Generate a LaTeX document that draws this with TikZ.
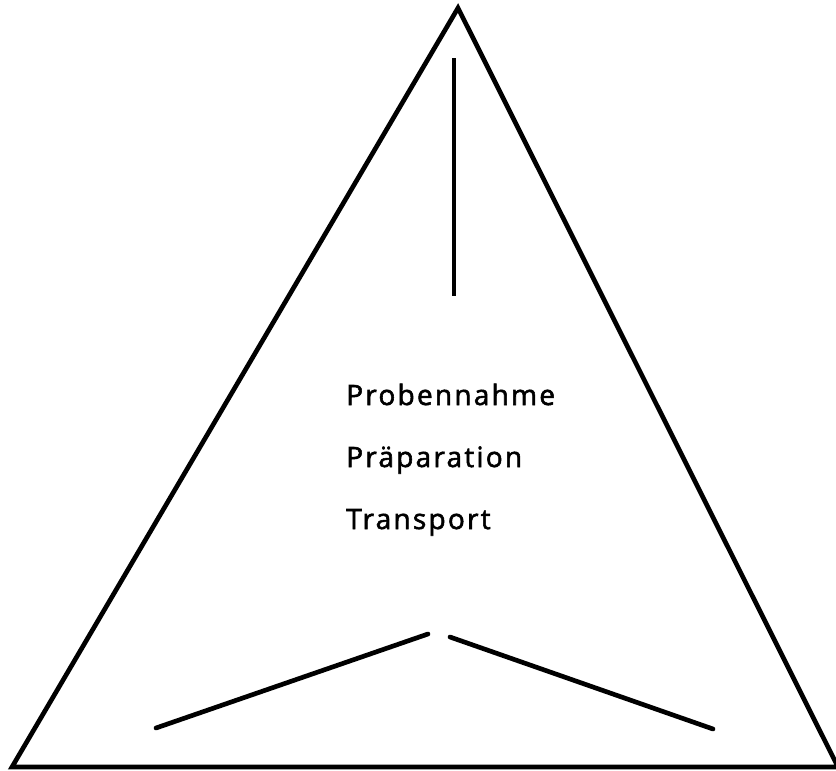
\documentclass[tikz,border=0pt]{standalone}
\usepackage{fontspec}
\setmainfont{Open Sans}[LetterSpace=8,FakeBold=2]
\begin{document}
\begin{tikzpicture}[x=0.75pt,y=-0.75pt,
  edge/.style={line width=3.5pt,line cap=round,line join=miter},
  label/.style={anchor=base west,inner sep=0pt,font=\fontsize{21}{24}\selectfont}]
\useasboundingbox (0,0) rectangle (836,771);
\coordinate (apex) at (458,8);
\coordinate (bl) at (12,767);
\coordinate (br) at (838,767);
\draw[edge,line cap=butt] (apex) -- (bl) -- (br) -- cycle;
\coordinate (vtop) at (454,58);
\coordinate (vbot) at (454,296);
\draw[edge,line cap=butt] (vtop) -- (vbot);
\coordinate (l1) at (156,728);
\coordinate (l2) at (428,634);
\coordinate (r1) at (450,637);
\coordinate (r2) at (713,729);
\draw[edge] (l1) -- (l2);
\draw[edge] (r1) -- (r2);
\node[label] (t1) at (346,405) {Probennahme};
\node[label] (t2) at (346,467) {Präparation};
\node[label] (t3) at (346,529) {Transport};
\end{tikzpicture}
\end{document}
